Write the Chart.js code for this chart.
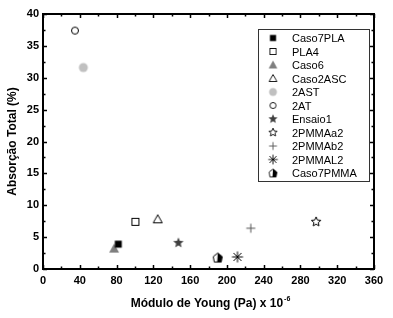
<!DOCTYPE html>
<html>
<head>
<meta charset="utf-8">
<script src="https://cdn.jsdelivr.net/npm/chart.js@4"></script>
<style>
  html, body { margin: 0; padding: 0; background: #fff; }
  #wrap { width: 393px; height: 318px; }
</style>
</head>
<body>
<div id="wrap"><canvas id="chart_1"></canvas></div>
<script>
const seriesNames = ['Caso7PLA', 'PLA4', 'Caso6', 'Caso2ASC', '2AST', '2AT', 'Ensaio1', '2PMMAa2', '2PMMAb2', '2PMMAL2', 'Caso7PMMA'];
const xValues = [81.9, 100.5, 77.3, 124.8, 43.9, 34.8, 147.3, 297, 226, 211.5, 190];
const yValues = [3.9, 7.4, 3.2, 7.8, 31.6, 37.4, 4.1, 7.4, 6.4, 1.9, 1.8];
const markerKinds = ['square', 'openSquare', 'triangle', 'openTriangle', 'dot', 'openDot', 'star', 'openStar', 'plus', 'asterisk', 'house'];
const xTickValues = [0, 40, 80, 120, 160, 200, 240, 280, 320, 360];
const yTickValues = [0, 5, 10, 15, 20, 25, 30, 35, 40];

const FONT = '"Liberation Sans", Arial, sans-serif';

// little canvases used as point styles (and reused in the legend)
function starPath(ctx, r, ri) {
  ctx.beginPath();
  for (let i = 0; i < 10; i++) {
    const a = -Math.PI / 2 + i * Math.PI / 5;
    const rr = i % 2 === 0 ? r : ri;
    const px = 8 + rr * Math.cos(a), py = 8 + rr * Math.sin(a);
    if (i === 0) ctx.moveTo(px, py); else ctx.lineTo(px, py);
  }
  ctx.closePath();
}

function makeMarker(kind) {
  const c = document.createElement('canvas');
  c.width = 16; c.height = 16;
  const ctx = c.getContext('2d');
  ctx.lineWidth = 1;
  ctx.strokeStyle = '#000';
  switch (kind) {
    case 'square':
      ctx.fillStyle = '#000';
      ctx.fillRect(4.5, 4.5, 7, 7);
      break;
    case 'openSquare':
      ctx.strokeRect(4.5, 4.5, 7, 7);
      break;
    case 'triangle':
      ctx.fillStyle = '#7f7f7f';
      ctx.beginPath();
      ctx.moveTo(8, 3); ctx.lineTo(13, 12); ctx.lineTo(3, 12); ctx.closePath();
      ctx.fill();
      break;
    case 'openTriangle':
      ctx.beginPath();
      ctx.moveTo(8, 3.5); ctx.lineTo(12.5, 11.5); ctx.lineTo(3.5, 11.5); ctx.closePath();
      ctx.stroke();
      break;
    case 'dot':
      ctx.fillStyle = '#c0c0c0';
      ctx.beginPath(); ctx.arc(8, 8, 4.5, 0, Math.PI * 2); ctx.fill();
      break;
    case 'openDot':
      ctx.beginPath(); ctx.arc(8, 8, 3.5, 0, Math.PI * 2); ctx.stroke();
      break;
    case 'star':
      ctx.fillStyle = '#3f3f3f';
      starPath(ctx, 5.5, 2.4); ctx.fill();
      break;
    case 'openStar':
      starPath(ctx, 5, 2.3); ctx.stroke();
      break;
    case 'plus':
      ctx.strokeStyle = '#555';
      ctx.beginPath();
      ctx.moveTo(3.5, 8); ctx.lineTo(12.5, 8);
      ctx.moveTo(8, 3.5); ctx.lineTo(8, 12.5);
      ctx.stroke();
      break;
    case 'asterisk':
      ctx.beginPath();
      ctx.moveTo(2.5, 8); ctx.lineTo(13.5, 8);
      ctx.moveTo(8, 2.5); ctx.lineTo(8, 13.5);
      ctx.moveTo(4, 4); ctx.lineTo(12, 12);
      ctx.moveTo(12, 4); ctx.lineTo(4, 12);
      ctx.stroke();
      break;
    case 'house':
      ctx.beginPath();
      ctx.moveTo(8, 3.5); ctx.lineTo(12.5, 7); ctx.lineTo(11.5, 12.5);
      ctx.lineTo(4.5, 12.5); ctx.lineTo(3.5, 7); ctx.closePath();
      ctx.stroke();
      ctx.fillStyle = '#000';
      ctx.beginPath();
      ctx.moveTo(8, 3.5); ctx.lineTo(12.5, 7); ctx.lineTo(11.5, 12.5);
      ctx.lineTo(7.5, 12.5); ctx.closePath();
      ctx.fill();
      break;
  }
  return c;
}

const markers = markerKinds.map(makeMarker);

const datasets = seriesNames.map((name, i) => ({
  label: name,
  data: [{ x: xValues[i], y: yValues[i] }],
  pointStyle: markers[i],
  pointRadius: 6,
  pointHoverRadius: 6
}));

// frame, inward ticks on all four sides, axis titles, boxed legend
const framePlugin = {
  id: 'framePlugin',
  afterDraw(chart) {
    const { ctx, chartArea: a, scales } = chart;
    const xs = scales.x, ys = scales.y;
    ctx.save();
    ctx.strokeStyle = '#000';
    ctx.lineWidth = 1.5;
    ctx.beginPath();
    xTickValues.forEach((v, i) => {
      const p = Math.round(xs.getPixelForValue(v)) + 0.5;
      ctx.moveTo(p, a.bottom); ctx.lineTo(p, a.bottom - 4);
      ctx.moveTo(p, a.top); ctx.lineTo(p, a.top + 4);
      if (i < xTickValues.length - 1) {
        const m = Math.round(xs.getPixelForValue((v + xTickValues[i + 1]) / 2)) + 0.5;
        ctx.moveTo(m, a.bottom); ctx.lineTo(m, a.bottom - 2.5);
        ctx.moveTo(m, a.top); ctx.lineTo(m, a.top + 2.5);
      }
    });
    yTickValues.forEach((v, i) => {
      const p = Math.round(ys.getPixelForValue(v)) + 0.5;
      ctx.moveTo(a.left, p); ctx.lineTo(a.left + 4, p);
      ctx.moveTo(a.right, p); ctx.lineTo(a.right - 4, p);
      if (i < yTickValues.length - 1) {
        const m = Math.round(ys.getPixelForValue((v + yTickValues[i + 1]) / 2)) + 0.5;
        ctx.moveTo(a.left, m); ctx.lineTo(a.left + 2.5, m);
        ctx.moveTo(a.right, m); ctx.lineTo(a.right - 2.5, m);
      }
    });
    ctx.stroke();
    ctx.lineWidth = 2;
    ctx.strokeRect(a.left, a.top, a.right - a.left, a.bottom - a.top);

    // axis titles
    ctx.fillStyle = '#000';
    ctx.font = 'bold 12px ' + FONT;
    ctx.textBaseline = 'middle';
    const mainTxt = 'Módulo de Young (Pa) x 10';
    ctx.font = 'bold 12px ' + FONT;
    const w1 = ctx.measureText(mainTxt).width;
    ctx.font = 'bold 7px ' + FONT;
    const w2 = ctx.measureText('-6').width;
    const startX = (a.left + a.right) / 2 + 2 - (w1 + w2 + 1) / 2;
    ctx.textAlign = 'left';
    ctx.font = 'bold 12px ' + FONT;
    ctx.fillText(mainTxt, startX, 304);
    ctx.font = 'bold 7px ' + FONT;
    ctx.fillText('-6', startX + w1 + 1, 299);
    ctx.textAlign = 'center';
    ctx.font = 'bold 12px ' + FONT;
    ctx.save();
    ctx.translate(13, (a.top + a.bottom) / 2);
    ctx.rotate(-Math.PI / 2);
    ctx.fillText('Absorção Total (%)', 0, 0);
    ctx.restore();

    // legend box
    const lx = 258.5, ly = 29.5, lw = 111, lh = 152;
    ctx.fillStyle = '#fff';
    ctx.fillRect(lx, ly, lw, lh);
    ctx.strokeStyle = '#333';
    ctx.lineWidth = 1;
    ctx.strokeRect(lx, ly, lw, lh);
    ctx.font = '11px ' + FONT;
    ctx.textAlign = 'left';
    ctx.fillStyle = '#000';
    seriesNames.forEach((name, i) => {
      const cy = 39 + i * 13.5;
      ctx.drawImage(markers[i], 273 - 7, cy - 8, 14, 14);
      ctx.fillText(name, 292, cy);
    });
    ctx.restore();
  }
};

const config = {
  type: 'scatter',
  data: { datasets },
  options: {
    responsive: true,
    maintainAspectRatio: false,
    animation: false,
    layout: { padding: { top: 14, right: 19, left: 0, bottom: 0 } },
    plugins: {
      legend: { display: false },
      tooltip: { enabled: false }
    },
    scales: {
      x: {
        type: 'linear',
        min: 0, max: 360,
        afterBuildTicks: s => { s.ticks = xTickValues.map(v => ({ value: v })); },
        afterFit: s => { s.height = 49; },
        grid: { display: false, drawTicks: false },
        border: { display: false },
        ticks: { color: '#000', padding: 5, maxRotation: 0, font: { family: FONT, size: 11, weight: 'bold' } }
      },
      y: {
        type: 'linear',
        min: 0, max: 40,
        afterBuildTicks: s => { s.ticks = yTickValues.map(v => ({ value: v })); },
        afterFit: s => { s.width = 43; },
        grid: { display: false, drawTicks: false },
        border: { display: false },
        ticks: { color: '#000', padding: 4, font: { family: FONT, size: 11, weight: 'bold' } }
      }
    }
  },
  plugins: [framePlugin]
};

const chart_1 = new Chart(document.getElementById('chart_1'), config);
</script>
</body>
</html>
